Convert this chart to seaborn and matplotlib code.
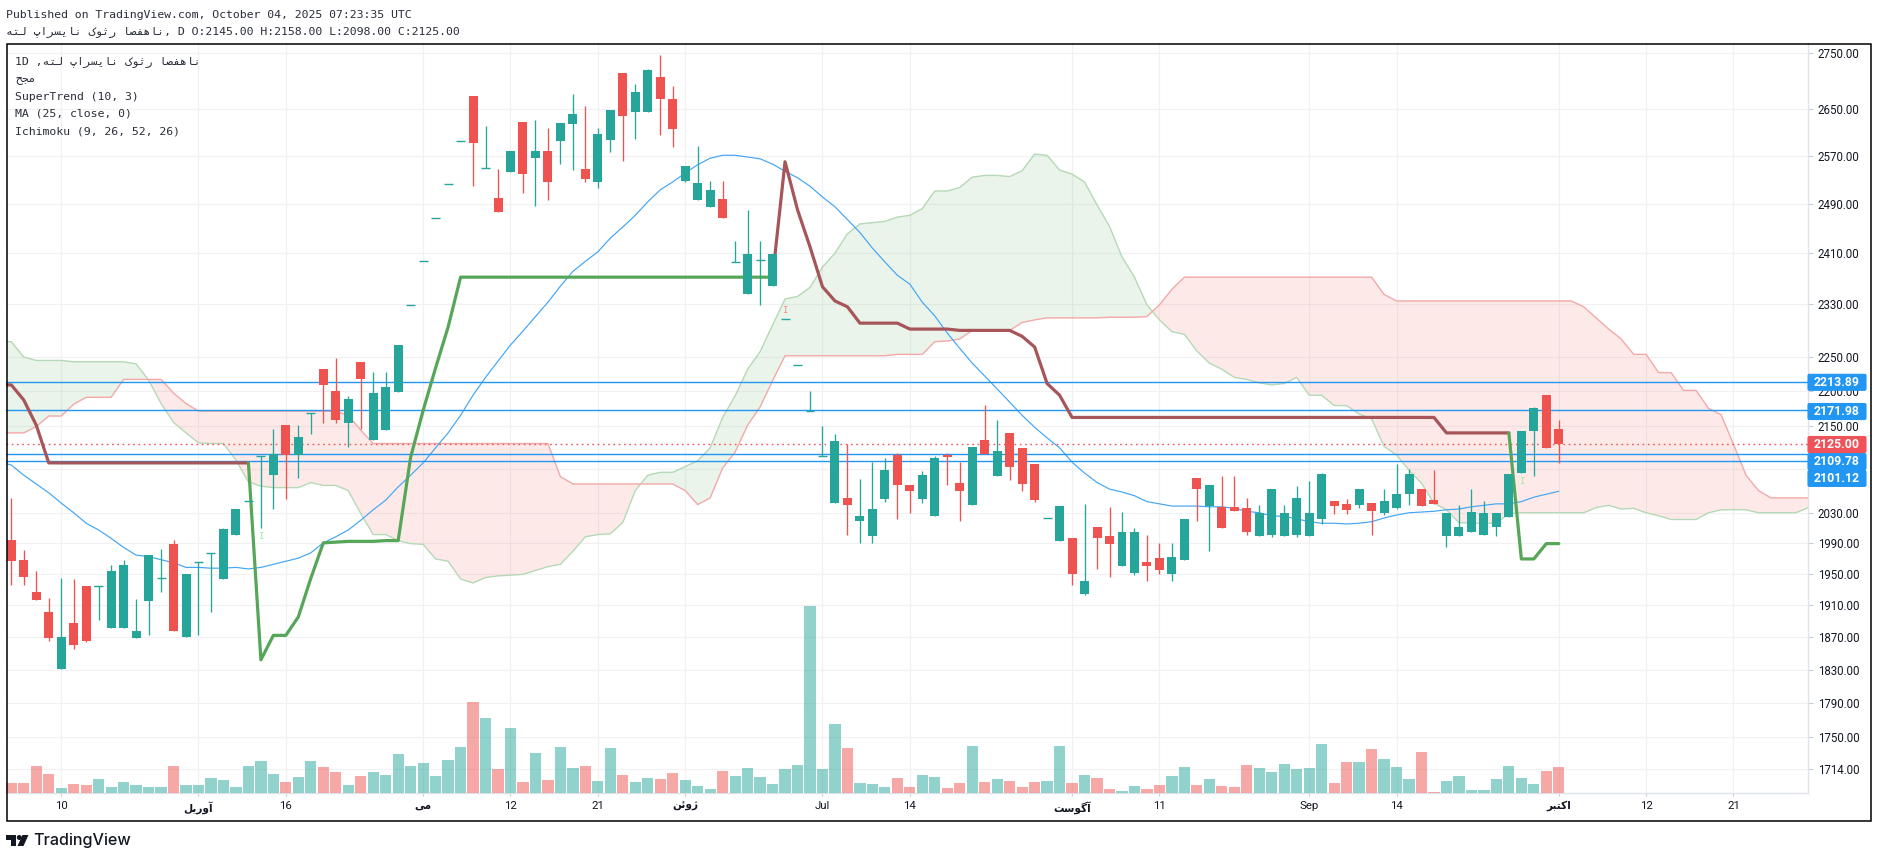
import numpy as np
import pandas as pd
import matplotlib
matplotlib.use("Agg")
import matplotlib.pyplot as plt
from matplotlib.patches import Rectangle, FancyBboxPatch, Polygon, Circle
from matplotlib.ticker import NullLocator
import seaborn as sns

# ---------- candle data ----------
opens = [1994,1968,1927,1901,1831,1887,1934,1933,1881,1881,
         1869,1915,1944,1989,1870,1965,1977,1943,2000,2046,
         2107,2081,2151,2109,2168,2232,2200,2154,2243,2130,
         2144,2199,2329,2397,2467,2522,2596,2674,2550,2499,
         2543,2629,2566,2578,2595,2625,2548,2526,2597,2715,
         2645,2645,2708,2668,2528,2496,2485,2498,2396,2345,
         2399,2358,2307,2238,2171,2107,2043,2050,2019,1999,
         2049,2109,2068,2049,2026,2109,2071,2040,2130,2080,
         2140,2119,2096,2023,1992,1996,1924,2011,1999,1960,
         1951,1965,1970,1949,1968,2077,2039,2038,2038,2036,
         1999,2000,1999,2000,1999,2022,2046,2042,2040,2043,
         2030,2037,2055,2062,2047,1999,1999,2004,2000,2011,
         2024,2084,2143,2194,2145]
highs = [2050,1980,1953,1919,1944,1943,1934,1934,1961,1967,
         1917,1974,1982,1994,1949,1965,1977,2009,2035,2046,
         2107,2145,2151,2151,2168,2232,2248,2193,2243,2228,
         2228,2268,2329,2397,2467,2522,2596,2674,2621,2548,
         2578,2629,2632,2618,2627,2677,2656,2618,2649,2715,
         2695,2722,2747,2691,2553,2586,2528,2528,2430,2480,
         2430,2409,2307,2238,2200,2150,2138,2124,2076,2099,
         2105,2112,2068,2087,2107,2112,2099,2120,2180,2158,
         2140,2119,2096,2023,2039,1996,2042,2011,2038,2031,
         2009,2000,1990,1990,2021,2077,2068,2080,2080,2050,
         2040,2062,2040,2066,2073,2084,2046,2049,2062,2043,
         2062,2096,2089,2062,2088,2030,2040,2062,2046,2030,
         2082,2143,2177,2194,2158]
lows = [1936,1936,1916,1865,1831,1855,1864,1891,1881,1881,
        1869,1872,1926,1877,1870,1872,1901,1943,2000,2046,
        2010,2035,2049,2077,2138,2154,2154,2120,2145,2130,
        2144,2199,2329,2397,2467,2522,2596,2519,2550,2476,
        2543,2508,2486,2496,2556,2546,2526,2516,2576,2561,
        2598,2645,2605,2585,2526,2496,2485,2467,2396,2345,
        2329,2358,2307,2238,2171,2107,2043,2000,1990,1990,
        2045,2022,2030,2043,2026,2067,2019,2040,2110,2080,
        2074,2060,2045,2023,1992,1936,1922,1956,1946,1960,
        1948,1940,1949,1940,1968,2019,1979,2009,2032,2001,
        1999,1998,1999,1998,1999,2015,2028,2028,2037,2000,
        2027,2035,2040,2039,2042,1985,1999,2004,2000,1999,
        2024,2084,2080,2119,2098]
closes = [1966,1946,1916,1869,1870,1860,1865,1934,1953,1961,
          1877,1974,1944,1877,1949,1965,1977,2008,2035,2046,
          2107,2110,2109,2134,2168,2209,2158,2189,2218,2197,
          2206,2268,2329,2397,2467,2522,2596,2592,2550,2476,
          2578,2540,2578,2526,2627,2642,2531,2607,2649,2639,
          2681,2720,2668,2616,2553,2524,2512,2467,2396,2409,
          2399,2409,2307,2238,2171,2107,2128,2040,2026,2035,
          2088,2067,2059,2081,2105,2106,2060,2120,2110,2114,
          2092,2069,2047,2023,2039,1949,1940,1997,1989,2005,
          2004,1960,1955,1971,2021,2062,2068,2009,2032,2005,
          2030,2062,2030,2050,2030,2082,2039,2034,2062,2032,
          2046,2055,2082,2039,2042,2030,2011,2031,2030,2030,
          2082,2143,2175,2119,2125]
volumes = [10,10,27,19,5,9,8,14,6,11,
           8,6,6,27,8,8,15,13,6,27,
           32,19,11,16,32,26,21,8,17,21,
           18,39,27,30,17,33,46,91,75,24,
           65,11,40,13,46,25,27,12,45,18,
           11,15,14,20,13,7,4,22,17,25,
           16,9,24,28,187,24,69,45,10,9,
           6,15,6,18,16,5,10,47,11,14,
           12,6,11,12,47,10,18,15,4,2,
           7,4,8,17,26,8,14,7,6,28,
           25,21,29,24,25,49,10,31,31,44,
           34,26,14,41,1,12,17,3,3,14,
           27,15,9,22,26]

# ---------- indicators (first value of ma25 and st_red_first is the bar before the first candle) ----------
ma25 = [2100,
        2095,2081,2069,2057,2043,2030,2016,2007,1996,1984,
        1974,1972,1968,1964,1958,1958,1957,1957,1958,1956,
        1958,1962,1966,1970,1977,1990,1998,2007,2020,2034,
        2047,2065,2081,2098,2119,2140,2165,2194,2220,2244,
        2268,2289,2311,2333,2358,2381,2397,2412,2434,2452,
        2471,2493,2513,2526,2541,2555,2566,2571,2571,2568,
        2565,2556,2544,2533,2519,2501,2485,2464,2443,2418,
        2396,2375,2361,2333,2312,2286,2263,2241,2222,2203,
        2184,2165,2148,2133,2119,2099,2084,2071,2062,2058,
        2053,2045,2042,2039,2039,2039,2038,2038,2036,2032,
        2030,2026,2025,2022,2018,2016,2016,2015,2016,2018,
        2023,2027,2030,2031,2032,2034,2035,2038,2040,2042,
        2042,2045,2051,2055,2059]
st_red_first = [2209,
                2209,2187,2151,2098,2098,2098,2098,2098,2098,2098,
                2098,2098,2098,2098,2098,2098,2098,2098,2098,2098]
st_green_first = [2098,1842,1872,1872,1895,1944,1990,1991,1992,1992,
                  1992,1993,1993,2106,2172,2234,2295,2372,2372,2372,
                  2372,2372,2372,2372,2372,2372,2372,2372,2372,2372,
                  2372,2372,2372,2372,2372,2372,2372,2372,2372,2372,
                  2372,2372,2372]
st_red_second = [2372,2560,2480,2420,2357,2335,2326,2301,2301,2301,
                 2301,2292,2292,2292,2292,2290,2290,2290,2290,2290,
                 2281,2265,2211,2194,2162,2162,2162,2162,2162,2162,
                 2162,2162,2162,2162,2162,2162,2162,2162,2162,2162,
                 2162,2162,2162,2162,2162,2162,2162,2162,2162,2162,
                 2162,2162,2162,2162,2140,2140,2140,2140,2140,2140]
st_green_second = [2140,1969,1969,1989,1989]
span_a = [2273,
          2273,2250,2245,2245,2245,2243,2243,2243,2243,2243,
          2240,2216,2182,2155,2140,2126,2125,2125,2102,2072,
          2066,2064,2064,2064,2071,2067,2067,2060,2029,2001,
          2001,1993,1989,1988,1969,1966,1943,1938,1945,1947,
          1948,1949,1954,1959,1962,1979,1998,2001,2002,2017,
          2060,2081,2085,2085,2093,2101,2119,2162,2193,2232,
          2258,2298,2338,2342,2356,2388,2410,2441,2457,2459,
          2461,2468,2471,2482,2511,2511,2517,2534,2537,2537,
          2535,2545,2573,2571,2546,2539,2526,2488,2453,2404,
          2372,2329,2306,2288,2284,2259,2241,2232,2220,2217,
          2212,2209,2211,2220,2194,2194,2179,2179,2167,2160,
          2121,2109,2088,2070,2043,2034,2017,2016,2016,2016,
          2029,2030,2030,2030,2030,2030,2030,2037,2040,2035,
          2036,2030,2026,2021,2021,2021,2030,2034,2034,2034,
          2030,2030,2030,2030,2037]
span_b = [2140,
          2140,2140,2149,2164,2164,2181,2191,2191,2191,2217,
          2217,2217,2217,2197,2182,2171,2171,2171,2171,2171,
          2171,2171,2171,2171,2171,2171,2171,2165,2144,2125,
          2125,2125,2125,2125,2125,2125,2125,2125,2125,2125,
          2125,2125,2125,2125,2079,2069,2069,2069,2069,2069,
          2069,2069,2069,2069,2060,2041,2050,2091,2113,2151,
          2177,2215,2252,2252,2252,2252,2252,2252,2252,2252,
          2252,2254,2254,2254,2273,2274,2277,2290,2290,2290,
          2290,2302,2306,2309,2309,2309,2309,2309,2310,2310,
          2310,2311,2329,2353,2372,2372,2372,2372,2372,2372,
          2372,2372,2372,2372,2372,2372,2372,2372,2372,2372,
          2345,2335,2335,2335,2335,2335,2335,2335,2335,2335,
          2335,2335,2335,2335,2335,2335,2326,2309,2292,2277,
          2254,2254,2227,2227,2201,2201,2175,2166,2124,2081,
          2060,2050,2050,2050,2050]
blue_levels = [2213.89, 2171.98, 2109.78, 2101.12]
last_close = 2125.00
signal_up = [1998, 2072]
signal_down = [2320]

# ---------- axis labels ----------
price_ticks = [2750,2650,2570,2490,2410,2330,2250,2200,2150,2090,2030,1990,1950,1910,1870,1830,1790,1750,1714]
time_ticks = [4,15,22,33,40,47,54,65,72,85,92,104,111,124,131,138]
time_labels = ["10", "\uFE81\uFEED\uFEAD\uFBFE\uFEDE"[::-1], "16", "\uFEE3\uFBFD"[::-1], "12", "21",
               "\uFB8A\uFEED\uFE8B\uFEE6"[::-1], "Jul", "14",
               "\uFE81\uFB94\uFEEE\uFEB3\uFE96"[::-1], "11", "Sep", "14",
               "\uFE8D\uFB90\uFE98\uFE92\uFEAE"[::-1], "12", "21"]
hotel = ("\uFEE7\uFE8E\uFEEB\uFED4\uFEBC\uFE8E \uFEAD\uFE9B\uFEEE\uFB8E "
         "\uFEE7\uFE8E\uFBFE\uFEB4\uFEAE\uFE8D\uFB56 \uFEDF\uFE98\uFEEA")[::-1]
volume_title = "\uFEE3\uFEA0\uFEA2"[::-1]

GREEN = "#26A69A"
RED = "#EF5350"
GRID = "#F1F1F3"
MONO = ["DejaVu Sans Mono", "DejaVu Sans"]
TEXT = "#2A2E39"

sns.set_theme(style="white")
plt.rcParams["font.family"] = ["Roboto", "DejaVu Sans"]

W, H = 1878, 858
fig = plt.figure(figsize=(W / 100, H / 100), dpi=100, facecolor="white")
rect = [6 / W, 1 - 793 / H, (1808 - 6) / W, (793 - 43) / H]
ax = fig.add_axes(rect, zorder=1)
ax_vol = fig.add_axes(rect, zorder=2)
ax_vol.patch.set_visible(False)

bars = np.arange(len(closes))
cloud_x = np.arange(len(span_a)) - 1
o, h, l, c = map(np.array, (opens, highs, lows, closes))
up = c >= o

ax.set_yscale("log")
ax.set_xlim(-0.425, 143.97)
ax.set_ylim(1686.8, 2769)

# cloud
a, b = np.array(span_a, float), np.array(span_b, float)
ax.fill_between(cloud_x, a, b, where=a >= b, interpolate=True, color="#43A047", alpha=0.11, lw=0, zorder=1)
ax.fill_between(cloud_x, a, b, where=a <= b, interpolate=True, color="#F44336", alpha=0.11, lw=0, zorder=1)
sns.lineplot(x=cloud_x, y=a, ax=ax, color="#B5D9B6", lw=1.0, estimator=None, zorder=2)
sns.lineplot(x=cloud_x, y=b, ax=ax, color="#F2A9A7", lw=1.0, estimator=None, zorder=2)

# moving average
sns.lineplot(x=np.arange(-1, len(closes)), y=ma25, ax=ax, color="#42A5F5", lw=0.85, estimator=None, zorder=3)

# horizontal levels
for lv in blue_levels:
    ax.axhline(lv, color="#2196F3", lw=1.0, zorder=3)
ax.axhline(last_close, color="#F0525A", lw=1.0, ls=(0, (1.2, 2.6)), zorder=3)

# SuperTrend
sns.lineplot(x=np.arange(-1, 20), y=st_red_first, ax=ax, color="#A65558", lw=2.3, estimator=None, zorder=4)
sns.lineplot(x=bars[19:62], y=st_green_first, ax=ax, color="#55A658", lw=2.3, estimator=None, zorder=4)
sns.lineplot(x=bars[61:121], y=st_red_second, ax=ax, color="#A65558", lw=2.3, estimator=None, zorder=4)
sns.lineplot(x=bars[120:125], y=st_green_second, ax=ax, color="#55A658", lw=2.3, estimator=None, zorder=4)

# candles
colors = np.where(up, GREEN, RED)
ax.vlines(bars, l, h, colors=colors, lw=0.95, zorder=5)
ax.bar(bars, np.abs(c - o), bottom=np.minimum(o, c), width=0.72, color=colors, lw=0, zorder=6)
flat = np.abs(c - o) <= 1
ax.hlines(c[flat], bars[flat] - 0.36, bars[flat] + 0.36, colors=colors[flat], lw=1.0, zorder=6)

# signal marks
for xi, yv in zip([20, 121], signal_up):
    ax.text(xi, yv, "I", color="#9BEE9B", fontsize=6.5, family=MONO, ha="center", va="center", zorder=6)
for xi, yv in zip([62], signal_down):
    ax.text(xi, yv, "I", color="#F88A8A", fontsize=6.5, family=MONO, ha="center", va="center", zorder=6)

# volume
vol_df = pd.DataFrame({"bar": bars, "volume": volumes, "dir": np.where(up, "up", "down")})
sns.barplot(data=vol_df, x="bar", y="volume", hue="dir", native_scale=True, dodge=False,
            palette={"up": GREEN, "down": RED}, alpha=0.5, saturation=1, width=0.9,
            linewidth=0, legend=False, ax=ax_vol)
ax_vol.set_xlim(-0.425, 143.97)
ax_vol.set_ylim(0, 750)
ax_vol.axis("off")

# axes cosmetics
ax.yaxis.tick_right()
ax.set_yticks(price_ticks)
ax.set_yticklabels(["" if p == 2090 else f"{p:.2f}" for p in price_ticks])
ax.yaxis.set_minor_locator(NullLocator())
ax.set_xticks(time_ticks)
ax.set_xticklabels(time_labels)
ax.grid(True, color=GRID, lw=0.9, zorder=0)
ax.set_axisbelow(True)
ax.tick_params(axis="y", right=True, length=3.6, width=0.8, color="#C8CCD4", pad=3.5,
               labelsize=8.3, labelcolor="#131722")
ax.tick_params(axis="x", bottom=True, length=2.2, width=0.8, color="#C8CCD4", pad=3.4,
               labelsize=8.2, labelcolor="#131722")
for lab in ax.get_xticklabels():
    if any(ord(ch) > 0x500 for ch in lab.get_text()):
        lab.set_family(["DejaVu Sans"])
        lab.set_fontweight("bold")
        lab.set_fontsize(7.6)
for s in ("top", "left"):
    ax.spines[s].set_visible(False)
for s in ("right", "bottom"):
    ax.spines[s].set_color("#DFE2E8")
    ax.spines[s].set_linewidth(1.0)

# overlay in figure pixels: frame, price labels, header
ov = fig.add_axes([0, 0, 1, 1], zorder=10)
ov.set_xlim(0, W)
ov.set_ylim(H, 0)
ov.axis("off")
ov.patch.set_visible(False)
ov.add_patch(Rectangle((6.5, 43.5), 1871 - 6.5, 821 - 43.5, fill=False, ec="black", lw=1.1))


def price_box(y, text, color):
    ov.add_patch(FancyBboxPatch((1808, y - 8), 58, 16, boxstyle="round,pad=0,rounding_size=1.5",
                                fc=color, ec=color, lw=0.8))
    ov.text(1837, y + 0.3, text, color="white", fontsize=8.8, fontweight="bold",
            ha="center", va="center")


price_box(382.3, f"{blue_levels[0]:.2f}", "#2196F3")
price_box(411.5, f"{blue_levels[1]:.2f}", "#2196F3")
price_box(478.4, f"{blue_levels[3]:.2f}", "#2196F3")
price_box(461.6, f"{blue_levels[2]:.2f}", "#2196F3")
price_box(444.5, f"{last_close:.2f}", "#F0525A")

mono_kw = dict(family=MONO, fontsize=8.25, color=TEXT, ha="left", va="center")
ov.text(6, 15, "Published on TradingView.com, October 04, 2025 07:23:35 UTC", **mono_kw)
ov.text(6, 32, hotel + ", D O:2145.00 H:2158.00 L:2098.00 C:2125.00", **mono_kw)
ov.text(15, 62, "1D ," + hotel, **mono_kw)
ov.text(15, 80, volume_title, **mono_kw)
ov.text(15, 97, "SuperTrend (10, 3)", **mono_kw)
ov.text(15, 113.5, "MA (25, close, 0)", **mono_kw)
ov.text(15, 131, "Ichimoku (9, 26, 52, 26)", **mono_kw)

# TradingView logo
ov.add_patch(Polygon([(6, 835), (16, 835), (16, 846), (11, 846), (11, 840), (6, 840)], fc="#131722", ec="none"))
ov.add_patch(Circle((19.3, 837.5), 2.5, fc="#131722", ec="none"))
ov.add_patch(Polygon([(22.5, 835), (28.5, 835), (23.5, 846), (17.5, 846)], fc="#131722", ec="none"))
ov.text(33, 840.5, "TradingView", family=["Inter", "DejaVu Sans"], fontsize=11.6, fontweight="medium",
        color="#131722", ha="left", va="center")

fig.savefig("out.png", dpi=100)
